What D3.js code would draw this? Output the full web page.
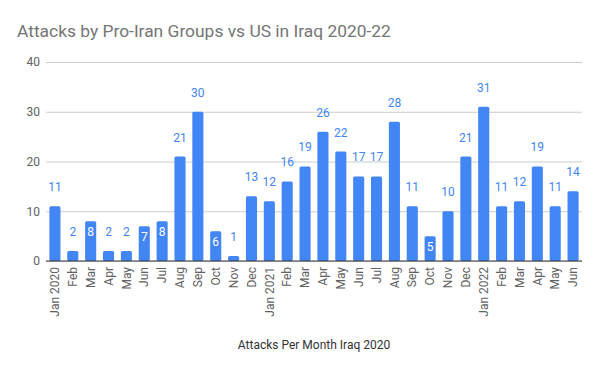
<!DOCTYPE html>
<html>
<head>
<meta charset="utf-8">
<script src="https://cdn.jsdelivr.net/npm/d3@7"></script>
<style>
  body { margin: 0; background: #fff; }
  svg { display: block; font-family: Roboto, "Noto Sans", sans-serif; }
</style>
</head>
<body>
<svg id="chart" width="600" height="371"></svg>
<script>
// month labels, as shown on the axis
var months = ["Jan 2020","Feb","Mar","Apr","May","Jun","Jul","Aug","Sep","Oct","Nov","Dec",
  "Jan 2021","Feb","Mar","Apr","May","Jun","Jul","Aug","Sep","Oct","Nov","Dec",
  "Jan 2022","Feb","Mar","Apr","May","Jun"];
var attacks = [11,2,8,2,2,7,8,21,30,6,1,13,
  12,16,19,26,22,17,17,28,11,5,10,21,
  31,11,12,19,11,14];
// which value labels sit inside the bar (white) rather than above it
var insideLabel = [false,false,true,false,false,true,true,false,false,true,false,false,
  false,false,false,false,false,false,false,false,false,true,false,false,
  false,false,false,false,false,false];
var yTicks = [0,10,20,30,40];

var blue = "#4285f4";
var margin = {top: 62, right: 18, bottom: 110, left: 46};
var width = 600 - margin.left - margin.right;
var height = 371 - margin.top - margin.bottom;

var svg = d3.select("#chart");

svg.append("text")
	.attr("x", 17)
	.attr("y", 37)
	.attr("fill", "#757575")
	.attr("font-size", 17.4)
	.text("Attacks by Pro-Iran Groups vs US in Iraq 2020-22");

var g = svg.append("g")
	.attr("transform", "translate(" + margin.left + "," + margin.top + ")");

var x = d3.scaleBand()
	.domain(d3.range(months.length))
	.range([0, width])
	.paddingInner(0.38)
	.paddingOuter(0.19);

var y = d3.scaleLinear()
	.domain([0, 40])
	.range([height, 0]);

// gridlines + y labels
var gy = g.append("g")
	.call(d3.axisLeft(y).tickValues(yTicks).tickSize(-width).tickPadding(6));
gy.select(".domain").remove();
gy.selectAll(".tick line").attr("stroke", "#cccccc");
gy.selectAll(".tick text")
	.attr("fill", "#616161")
	.attr("font-size", 12)
	.attr("font-family", "Roboto, sans-serif");

// bars
g.selectAll(".bar")
	.data(attacks)
	.enter().append("rect")
		.attr("class", "bar")
		.attr("x", function(d, i) { return x(i); })
		.attr("y", function(d) { return y(d); })
		.attr("width", x.bandwidth())
		.attr("height", function(d) { return height - y(d); })
		.attr("rx", 1.5)
		.attr("fill", blue);

// value labels
g.selectAll(".val")
	.data(attacks)
	.enter().append("text")
		.attr("class", "val")
		.attr("x", function(d, i) { return x(i) + x.bandwidth() / 2; })
		.attr("y", function(d, i) { return insideLabel[i] ? y(d) + 15 : y(d) - 15; })
		.attr("text-anchor", "middle")
		.attr("font-size", 12)
		.attr("fill", function(d, i) { return insideLabel[i] ? "#ffffff" : blue; })
		.text(function(d) { return d; });

// x axis
var gx = g.append("g")
	.attr("transform", "translate(0," + height + ")")
	.call(d3.axisBottom(x).tickSize(0).tickFormat(function(i) { return months[i]; }));
gx.select(".domain").attr("stroke", "#333333").attr("d", "M0,0H" + width);
gx.selectAll(".tick text")
	.attr("fill", "#616161")
	.attr("font-size", 12)
	.attr("font-family", "Roboto, sans-serif")
	.attr("text-anchor", "end")
	.attr("dy", "0.35em")
	.attr("transform", "translate(0,6) rotate(-90)")
	.attr("x", 0)
	.attr("y", 0);

svg.append("text")
	.attr("x", margin.left + width / 2)
	.attr("y", 349)
	.attr("text-anchor", "middle")
	.attr("fill", "#333333")
	.attr("font-size", 12)
	.text("Attacks Per Month Iraq 2020");
</script>
</body>
</html>
